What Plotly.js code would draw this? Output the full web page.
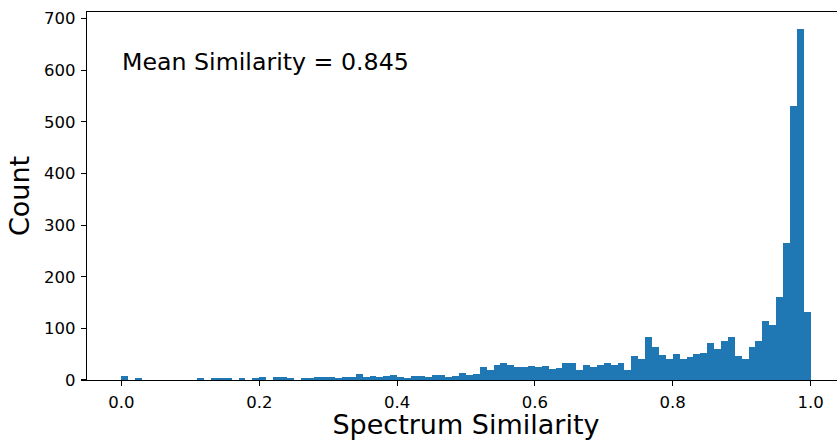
<!DOCTYPE html>
<html>
<head>
<meta charset="utf-8">
<script src="https://cdn.plot.ly/plotly-3.0.1.min.js"></script>
<style>
  html, body { margin: 0; padding: 0; background: #fff; overflow: hidden; }
  #wrap { width: 837px; height: 440px; overflow: hidden; }
  #chart { width: 850px; height: 440px; }
</style>
</head>
<body>
<div id="wrap"><div id="chart"></div></div>
<script>
// Histogram of spectrum similarity scores: 100 equal bins over [0, 1]
const binStart = 0.0;
const binWidth = 0.01;
const counts = [
  7, 0, 3, 0, 0, 0, 0, 0, 0, 0,
  0, 3, 0, 3, 3, 3, 0, 3, 0, 3,
  5, 0, 5, 5, 3, 0, 3, 3, 5, 5,
  5, 3, 6, 5, 12, 5, 8, 5, 8, 10,
  6, 4, 8, 8, 5, 10, 10, 6, 8, 14,
  10, 12, 26, 20, 30, 32, 30, 26, 26, 28,
  26, 28, 22, 24, 33, 33, 20, 30, 26, 30,
  32, 30, 32, 20, 47, 41, 84, 64, 49, 41,
  51, 41, 45, 51, 53, 72, 61, 76, 84, 47,
  41, 64, 76, 115, 107, 161, 266, 530, 679, 132
];
const meanSimilarity = 0.845;
const xTicks = [0.0, 0.2, 0.4, 0.6, 0.8, 1.0];
const yTicks = [0, 100, 200, 300, 400, 500, 600, 700];

const binLefts = counts.map((_, i) => binStart + i * binWidth);

const font = 'DejaVu Sans, Verdana, sans-serif';

const trace = {
  type: 'bar',
  x: binLefts,
  y: counts,
  width: binWidth,
  offset: 0,
  marker: { color: '#1f77b4', line: { width: 0 } },
  hoverinfo: 'x+y'
};

const axisCommon = {
  showline: true,
  mirror: true,
  linecolor: '#000',
  linewidth: 1.1,
  ticks: 'outside',
  ticklen: 5,
  tickwidth: 1.1,
  tickcolor: '#000',
  showgrid: false,
  zeroline: false,
  tickfont: { family: font, size: 16.5, color: '#000' }
};

const layout = {
  width: 850,
  height: 440,
  margin: { l: 86.7, r: 4.5, t: 11.7, b: 59.7 },
  paper_bgcolor: '#fff',
  plot_bgcolor: '#fff',
  bargap: 0,
  showlegend: false,
  xaxis: Object.assign({}, axisCommon, {
    range: [-0.05, 1.05],
    tickvals: xTicks,
    ticktext: xTicks.map(v => v.toFixed(1)),
    ticklabelstandoff: 2,
    title: { text: 'Spectrum Similarity', font: { family: font, size: 27, color: '#000' }, standoff: 10 }
  }),
  yaxis: Object.assign({}, axisCommon, {
    range: [0, 712.8],
    tickvals: yTicks,
    ticklabelstandoff: 2,
    title: { text: 'Count', font: { family: font, size: 27, color: '#000' }, standoff: 6 }
  }),
  annotations: [{
    xref: 'x', yref: 'y',
    x: -0.002, y: 615,
    xanchor: 'left', yanchor: 'middle',
    showarrow: false,
    text: 'Mean Similarity = ' + meanSimilarity.toFixed(3),
    font: { family: font, size: 23.7, color: '#000' }
  }]
};

Plotly.newPlot('chart', [trace], layout, { displayModeBar: false, staticPlot: true });
</script>
</body>
</html>
